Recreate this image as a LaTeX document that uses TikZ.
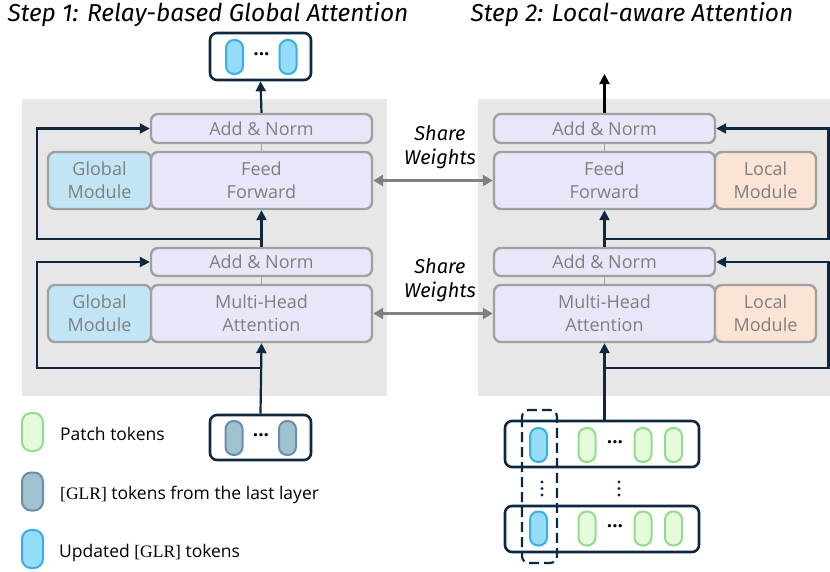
\documentclass[tikz,border=0pt]{standalone}
\usepackage{fontspec}
\setmainfont{Open Sans}
\newfontfamily\titlefont{Fira Sans}
\newfontfamily\glrfont{Liberation Serif}
\usetikzlibrary{arrows.meta}
\definecolor{panel}{HTML}{E7E7E7}
\definecolor{lav}{HTML}{E8E6F8}
\definecolor{boxborder}{HTML}{A0A0A0}
\definecolor{boxtext}{HTML}{7F7F7F}
\definecolor{glob}{HTML}{C1E5F5}
\definecolor{loc}{HTML}{FBE3D6}
\definecolor{navy}{HTML}{0E2841}
\definecolor{tokblue}{HTML}{94DCF8}
\definecolor{tokblueb}{HTML}{3BAEE3}
\definecolor{tokgreen}{HTML}{E6FBDB}
\definecolor{tokgreenb}{HTML}{92DB8C}
\definecolor{tokglr}{HTML}{9DC3CF}
\definecolor{tokglrb}{HTML}{6E8BB0}
\definecolor{sharegray}{HTML}{808080}
\tikzset{
  blk/.style={draw=boxborder, line width=2.4pt, fill=lav, rounded corners=7pt, text=boxtext,
    font=\fontsize{18}{23}\selectfont, align=center, inner sep=0pt},
  gm/.style={blk, fill=glob},
  lm/.style={blk, fill=loc},
  tok/.style={line width=2pt, rounded corners=8pt, minimum width=17pt, minimum height=34pt, inner sep=0pt},
  tb/.style={tok, draw=tokblueb, fill=tokblue},
  tg/.style={tok, draw=tokgreenb, fill=tokgreen},
  tr/.style={tok, draw=tokglrb, fill=tokglr},
  tbox/.style={draw=navy, line width=2.6pt, fill=white, rounded corners=7pt, inner sep=0pt},
  flow/.style={navy, line width=2.2pt, -{Triangle[length=10pt,width=10pt]}},
  share/.style={sharegray, line width=2.4pt, {Triangle[length=10pt,width=11pt]}-{Triangle[length=10pt,width=11pt]}},
  thin/.style={boxborder, line width=1pt},
  dots/.style={font=\fontsize{19}{19}\selectfont\bfseries, inner sep=0pt},
  legend/.style={anchor=west, font=\fontsize{17.5}{20}\selectfont, inner sep=0pt},
  sw/.style={font=\fontsize{20}{24}\selectfont\titlefont\itshape, align=center, inner sep=0pt},
  ttl/.style={font=\fontsize{24.5}{28}\selectfont\titlefont\itshape, inner sep=0pt}
}
\begin{document}
\begin{tikzpicture}[x=1pt,y=-1pt]
\useasboundingbox (0,0) rectangle (830,571);
% panels
\fill[panel] (22,99) rectangle (387,396);
\fill[panel] (478,99) rectangle (830,396);
% titles
\node[ttl] (t1) at (208,15) {Step 1: Relay-based Global Attention};
\node[ttl] (t2) at (632,15) {Step 2: Local-aware Attention};
% left column
\node[blk, minimum width=221pt, minimum height=29pt] (an1) at (261.5,128.5) {Add \& Norm};
\node[blk, minimum width=221pt, minimum height=57pt] (ff1) at (261.5,180.5) {Feed\\Forward};
\node[gm, minimum width=103pt, minimum height=57pt] (gm1) at (99.5,180.5) {Global\\Module};
\node[blk, minimum width=221pt, minimum height=28pt] (an2) at (261.5,262) {Add \& Norm};
\node[blk, minimum width=221pt, minimum height=57pt] (mha1) at (261.5,313.5) {Multi-Head\\Attention};
\node[gm, minimum width=103pt, minimum height=57pt] (gm2) at (99.5,313.5) {Global\\Module};
% right column
\node[blk, minimum width=221pt, minimum height=29pt] (an3) at (604.5,128.5) {Add \& Norm};
\node[blk, minimum width=221pt, minimum height=57pt] (ff2) at (604.5,180.5) {Feed\\Forward};
\node[lm, minimum width=101pt, minimum height=57pt] (lm1) at (765.5,180.5) {Local\\Module};
\node[blk, minimum width=221pt, minimum height=28pt] (an4) at (604.5,262) {Add \& Norm};
\node[blk, minimum width=221pt, minimum height=57pt] (mha2) at (604.5,313.5) {Multi-Head\\Attention};
\node[lm, minimum width=101pt, minimum height=57pt] (lm2) at (765.5,313.5) {Local\\Module};
% output box (left)
\node[tbox, minimum width=101pt, minimum height=47pt] (out1) at (260.5,56.5) {};
\node[tb] (o1a) at (234.5,57) {};
\node[tb] (o1b) at (288,57) {};
\node[dots] (o1d) at (261.5,54) {...};
% input box (left)
\node[tbox, minimum width=101pt, minimum height=45pt] (in1) at (260.5,437.5) {};
\node[tr] (i1a) at (234,438) {};
\node[tr] (i1b) at (287.5,438) {};
\node[dots] (i1d) at (261,435) {...};
% rows (right)
\node[tbox, minimum width=194pt, minimum height=46pt] (row1) at (602,444) {};
\node[tbox, minimum width=194pt, minimum height=46pt] (row2) at (602,529) {};
\node[tb] (r1a) at (538.5,445) {};
\node[tg] (r1b) at (587,445) {};
\node[dots] (r1d) at (615,442) {...};
\node[tg] (r1c) at (643,445) {};
\node[tg] (r1e) at (673.5,445) {};
\node[tb] (r2a) at (538.5,528.5) {};
\node[tg] (r2b) at (587,528.5) {};
\node[dots] (r2d) at (615,526) {...};
\node[tg] (r2c) at (643,528.5) {};
\node[tg] (r2e) at (673.5,528.5) {};
\draw[navy, line width=2.2pt, dash pattern=on 10pt off 5pt, rounded corners=7pt] (522,410) rectangle (557,563);
\foreach \x in {542,619}{
  \foreach \y in {482,488.5,495}{ \fill[navy] (\x,\y) circle (1.6pt); }
}
% legend
\node[tg, minimum width=21pt, minimum height=38pt, rounded corners=9pt] (lg1) at (32.5,432) {};
\node[tr, minimum width=21pt, minimum height=38pt, rounded corners=9pt] (lg2) at (32.5,491.5) {};
\node[tb, minimum width=21pt, minimum height=38pt, rounded corners=9pt] (lg3) at (32.5,549) {};
\node[legend] (lt1) at (60,434) {Patch tokens};
\node[legend] (lt2) at (60,495) {{\glrfont [GLR]} tokens from the last layer};
\node[legend] (lt3) at (59,553) {Updated {\glrfont [GLR]} tokens};
% thin links
\draw[thin] (an1.south) -- (ff1.north);
\draw[thin] (an2.south) -- (mha1.north);
\draw[thin] (an3.south) -- (ff2.north);
\draw[thin] (an4.south) -- (mha2.north);
% left flows
\draw[flow] (an1.north) -- (out1.south);
\draw[flow] (an2.north) -- (ff1.south);
\draw[flow] (in1.north) -- (mha1.south);
\coordinate (j1) at (261.5,239);
\coordinate (c1) at (37,239);
\draw[flow] (j1) -- (c1) |- (an1.west);
\coordinate (j2) at (261.5,368);
\coordinate (c2) at (37,368);
\draw[flow] (j2) -- (c2) |- (an2.west);
% right flows
\coordinate (o2) at (604.5,74);
\draw[black, line width=2.2pt, -{Triangle[length=10pt,width=10pt]}] (an3.north) -- (o2);
\draw[flow] (an4.north) -- (ff2.south);
\draw[flow] (mha2.south |- row1.north) -- (mha2.south);
\coordinate (j3) at (604.5,239);
\coordinate (c3) at (828.5,239);
\draw[flow] (j3) -- (c3) |- (an3.east);
\coordinate (j4) at (604.5,368);
\coordinate (c4) at (828.5,368);
\draw[flow] (j4) -- (c4) |- (an4.east);
% share weights
\draw[share] (ff1.east) -- (ff2.west);
\draw[share] (mha1.east) -- (mha2.west);
\node[sw] (sw1) at (440,147) {Share\\Weights};
\node[sw] (sw2) at (440,280) {Share\\Weights};
\end{tikzpicture}
\end{document}
